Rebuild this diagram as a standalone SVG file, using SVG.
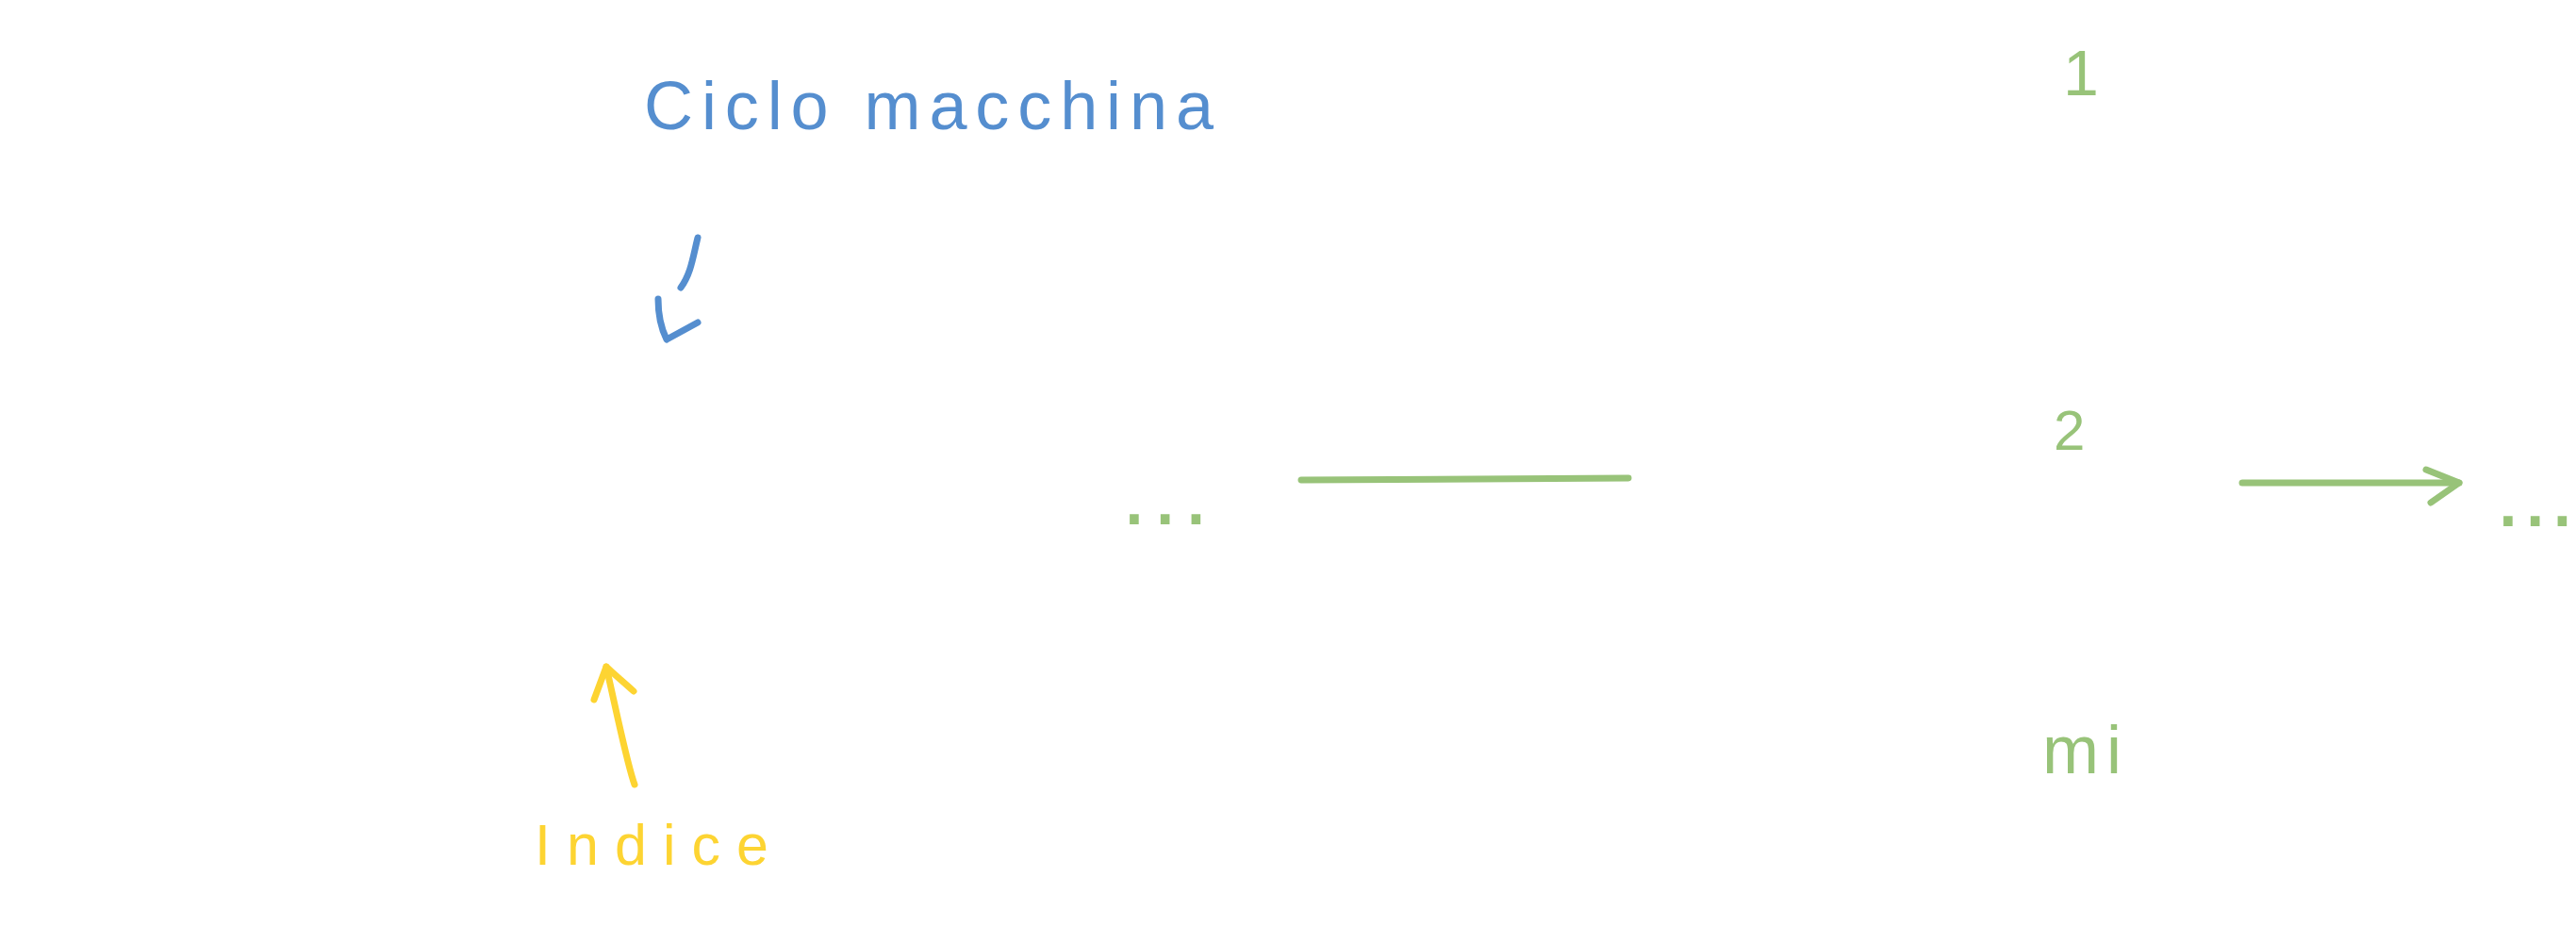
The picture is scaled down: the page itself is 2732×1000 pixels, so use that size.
<svg xmlns="http://www.w3.org/2000/svg" width="2732" height="1000" viewBox="0 0 2732 1000">
<style>
  .t { font-family: "Liberation Sans", "DejaVu Sans", sans-serif; }
  .blue { fill: #558ecf; }
  .green { fill: #98c379; }
  .yellow { fill: #fdd432; }
  .ln { fill: none; stroke-width: 7; stroke-linecap: round; stroke-linejoin: round; }
  .lb { stroke: #558ecf; }
  .lg { stroke: #98c379; }
  .ly { stroke: #fdd432; }
</style>
<rect x="0" y="0" width="2732" height="1000" fill="#ffffff"/>
<g id="ciclo-macchina">
  <text class="t blue" x="683" y="137" font-size="72" textLength="604" lengthAdjust="spacing">Ciclo macchina</text>
</g>
<g id="indice">
  <text class="t yellow" x="567" y="917" font-size="61" textLength="248" lengthAdjust="spacing">Indice</text>
</g>
<g id="dots-left">
  <text class="t green" x="1189" y="556" font-size="100" letter-spacing="5">...</text>
</g>
<g id="n1">
  <text class="t green" x="2188" y="101" font-size="68">1</text>
</g>
<g id="n2">
  <text class="t green" x="2178" y="477" font-size="60">2</text>
</g>
<g id="nmi">
  <text class="t green" x="2166" y="820" font-size="72" textLength="84" lengthAdjust="spacing">mi</text>
</g>
<g id="dots-right">
  <text class="t green" x="2646" y="558" font-size="100" letter-spacing="1">...</text>
</g>
<g id="connectors">
  <path class="ln lb" d="M740,252 C735,272 733,290 722,305"/>
  <path class="ln lb" d="M698,317 C698,335 702,350 707,360 L740,342"/>
  <path class="ln lg" d="M1380,509 L1727,507"/>
  <path class="ln lg" d="M2378,512 L2608,512"/>
  <path class="ln lg" d="M2573,498 L2608,512 L2578,533"/>
  <path class="ln ly" d="M673,832 C665,810 655,760 643,707"/>
  <path class="ln ly" d="M630,742 L643,707 C650,714 660,722 672,733"/>
</g>
</svg>
